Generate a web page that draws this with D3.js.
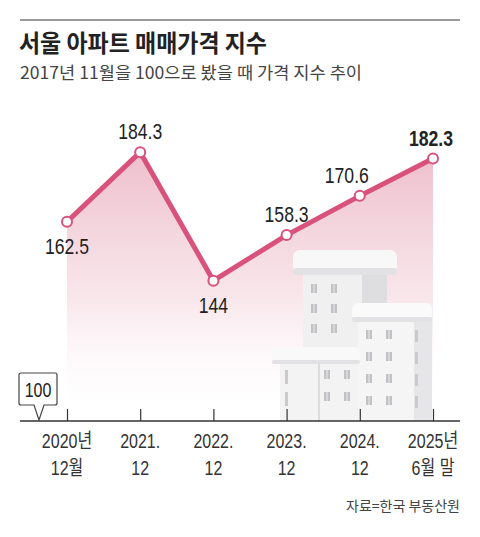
<!DOCTYPE html>
<html>
<head>
<meta charset="utf-8">
<script src="https://cdn.jsdelivr.net/npm/d3@7"></script>
<style>
  body { margin: 0; background: #fff; }
  svg { display: block; }
  .num { font-family: "Liberation Sans", "Noto Sans CJK KR", sans-serif; }
  .kr { font-family: "Noto Sans CJK KR", sans-serif; }
</style>
</head>
<body>
<div id="chart"></div>
<script>
// data
var periods = ["2020년|12월", "2021.|12", "2022.|12", "2023.|12", "2024.|12", "2025년|6월 말"];
var values = [162.5, 184.3, 144, 158.3, 170.6, 182.3];
var baseValue = 100;
var title = "서울 아파트 매매가격 지수";
var subtitle = "2017년 11월을 100으로 봤을 때 가격 지수 추이";
var source = "자료=한국 부동산원";

var width = 480, height = 537;
var pink = "#d8527c";

var svg = d3.select("#chart").append("svg")
    .attr("width", width)
    .attr("height", height);

// squeeze text horizontally, the original uses a condensed face
function condense(sel, k) {
    sel.each(function() {
        var len = this.getComputedTextLength();
        d3.select(this).attr("textLength", len * k).attr("lengthAdjust", "spacingAndGlyphs");
    });
}

var defs = svg.append("defs");
var grad = defs.append("linearGradient")
    .attr("id", "fillGrad")
    .attr("x1", 0).attr("y1", 0).attr("x2", 0).attr("y2", 1);
grad.append("stop").attr("offset", "0%").attr("stop-color", "#e6a3b6").attr("stop-opacity", 0.7);
grad.append("stop").attr("offset", "55%").attr("stop-color", "#f3d3dc").attr("stop-opacity", 0.55);
grad.append("stop").attr("offset", "100%").attr("stop-color", "#fff").attr("stop-opacity", 0);

// header
svg.append("line")
    .attr("x1", 20).attr("x2", 460).attr("y1", 20).attr("y2", 20)
    .attr("stroke", "#9a9a9a").attr("stroke-width", 2);
svg.append("text").attr("class", "kr")
    .attr("x", 19).attr("y", 52)
    .attr("font-size", 24).attr("font-weight", "bold").attr("fill", "#222")
    .attr("textLength", 248).attr("lengthAdjust", "spacingAndGlyphs")
    .text(title);
svg.append("text").attr("class", "kr")
    .attr("x", 20).attr("y", 79)
    .attr("font-size", 17).attr("fill", "#444")
    .attr("textLength", 342).attr("lengthAdjust", "spacingAndGlyphs")
    .text(subtitle);

var X = d3.scalePoint()
    .domain(d3.range(periods.length))
    .range([67, 433]);
var Y = d3.scaleLinear()
    .domain([baseValue, 190])
    .range([421, 134]);

// area under the line
var area = d3.area()
    .x(function(d, i) { return X(i); })
    .y0(Y(baseValue))
    .y1(function(d) { return Y(d); });
svg.append("path")
    .datum(values)
    .attr("d", area)
    .attr("fill", "url(#fillGrad)");

// building illustration
var b = svg.append("g");
function block(x, y, w, h, fill, rx) {
    b.append("rect").attr("x", x).attr("y", y).attr("width", w).attr("height", h)
        .attr("rx", rx || 0).attr("fill", fill);
}
function win(x, y) {
    b.append("rect").attr("x", x).attr("y", y).attr("width", 6).attr("height", 9).attr("fill", "#c2c2c6");
    b.append("rect").attr("x", x + 2.5).attr("y", y).attr("width", 1).attr("height", 9).attr("fill", "#ececee");
}
// tall tower
block(303, 272, 84, 80, "#f0f0f1");
block(362, 272, 25, 80, "#dedee1");
block(293, 250, 104, 24, "#f8f8f8", 7);
block(293, 268, 104, 7, "#e2e2e5", 3);
[284, 304, 324].forEach(function(y) { win(311, y); win(331, y); });
// right building
block(358, 318, 74, 103, "#f5f5f6");
block(414, 318, 18, 103, "#e6e6e8");
block(352, 303, 80, 18, "#fafafa", 6);
block(352, 317, 80, 5, "#e2e2e5", 2);
[330, 352, 374, 396].forEach(function(y) {
    win(366, y); win(386, y);
    b.append("rect").attr("x", 415).attr("y", y).attr("width", 3).attr("height", 12).attr("fill", "#cacace");
});
// lower left block
block(280, 360, 78, 61, "#f3f3f4");
block(272, 347, 88, 16, "#f9f9f9", 6);
block(272, 360, 88, 4, "#e2e2e5", 2);
block(318, 363, 2, 58, "#dcdcdf");
[370, 392].forEach(function(y) {
    b.append("rect").attr("x", 285).attr("y", y).attr("width", 3).attr("height", 14).attr("fill", "#cacace");
    win(324, y); win(344, y);
});

// line and points
var line = d3.line()
    .x(function(d, i) { return X(i); })
    .y(function(d) { return Y(d); });
svg.append("path")
    .datum(values)
    .attr("d", line)
    .attr("fill", "none")
    .attr("stroke", pink)
    .attr("stroke-width", 5)
    .attr("stroke-linejoin", "round");
svg.selectAll("circle.pt")
    .data(values)
    .enter().append("circle")
    .attr("class", "pt")
    .attr("cx", function(d, i) { return X(i); })
    .attr("cy", function(d) { return Y(d); })
    .attr("r", 5)
    .attr("fill", "#fff")
    .attr("stroke", pink)
    .attr("stroke-width", 2);

// value labels: above or below point
var labelPos = ["below", "above", "below", "above", "above", "above"];
var vals = svg.selectAll("text.val")
    .data(values)
    .enter().append("text")
    .attr("class", "num val")
    .attr("x", function(d, i) { return X(i) + (i === 4 ? -13 : (i === 5 ? -2 : 0)); })
    .attr("y", function(d, i) { return labelPos[i] === "above" ? Y(d) - 13 : Y(d) + 32; })
    .attr("text-anchor", "middle")
    .attr("font-size", 22)
    .attr("font-weight", function(d, i) { return i === values.length - 1 ? "bold" : "normal"; })
    .attr("fill", "#222")
    .text(function(d) { return d; });
condense(vals, 0.8);

// x axis
var axis = d3.axisBottom(X)
    .tickSizeInner(-12)
    .tickSizeOuter(0)
    .tickFormat("");
var ax = svg.append("g")
    .attr("transform", "translate(0," + Y(baseValue) + ")")
    .call(axis);
ax.select(".domain").remove();
ax.selectAll(".tick line").attr("stroke", "#333").attr("stroke-width", 1.2);
svg.append("line")
    .attr("x1", 20).attr("x2", 460)
    .attr("y1", Y(baseValue)).attr("y2", Y(baseValue))
    .attr("stroke", "#333").attr("stroke-width", 1.5);

var labels = svg.selectAll("text.xl")
    .data(periods)
    .enter().append("text")
    .attr("class", "num xl")
    .attr("text-anchor", "middle")
    .attr("font-size", 20)
    .attr("fill", "#333");
labels.each(function(d, i) {
    var parts = d.split("|");
    var t = d3.select(this);
    parts.forEach(function(p, k) {
        t.append("tspan")
            .attr("x", X(i))
            .attr("y", Y(baseValue) + 27 + k * 27)
            .text(p);
    });
});
condense(labels.selectAll("tspan"), 0.8);

// base value callout
var cx = 39, by = Y(baseValue);
svg.append("path")
    .attr("d", "M19,375 Q19,373 21,373 L55,373 Q57,373 57,375 L57,403 Q57,405 55,405 L44,405 L" + cx + "," + (by - 1) + " L34,405 L21,405 Q19,405 19,403 Z")
    .attr("fill", "#fff")
    .attr("stroke", "#444")
    .attr("stroke-width", 1.2);
var bl = svg.append("text").attr("class", "num")
    .attr("x", 38).attr("y", 397)
    .attr("text-anchor", "middle")
    .attr("font-size", 20).attr("fill", "#222")
    .text(baseValue);
condense(bl, 0.8);

// source
svg.append("text").attr("class", "kr")
    .attr("x", 460).attr("y", 511)
    .attr("text-anchor", "end")
    .attr("font-size", 14).attr("fill", "#444")
    .text(source);
</script>
</body>
</html>
